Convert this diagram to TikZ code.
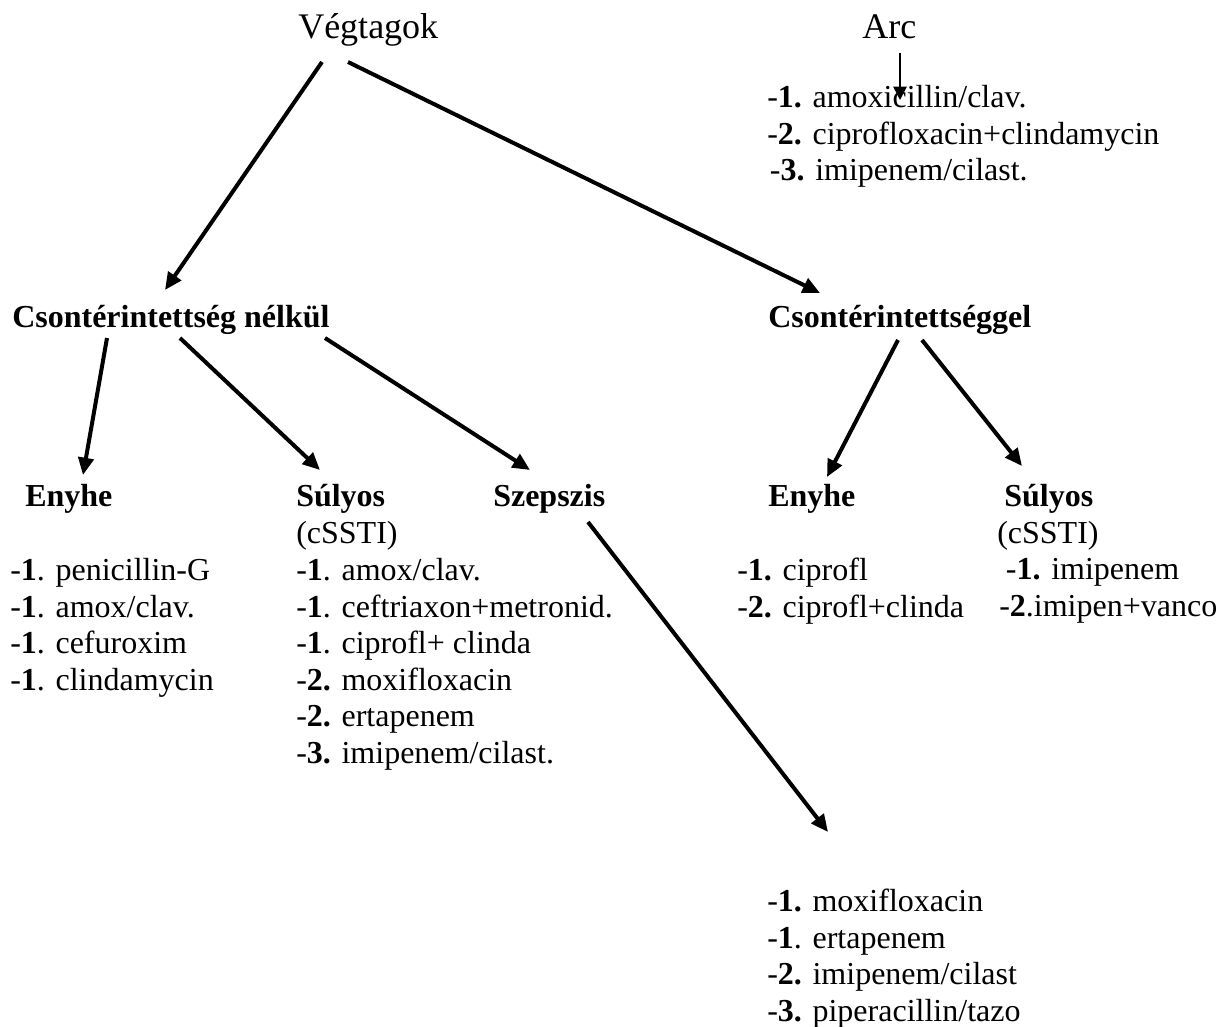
\documentclass[tikz,border=0pt]{standalone}
\usepackage{fontspec}
\setmainfont{Liberation Serif}
\usetikzlibrary{arrows.meta,calc}
\tikzset{
  txt/.style={anchor=base west,inner sep=0pt,font=\fontsize{24}{27}\selectfont},
  title/.style={anchor=base west,inner sep=0pt,font=\fontsize{27}{31}\selectfont},
  head/.style={anchor=base west,inner sep=0pt,font=\fontsize{24}{27}\selectfont\bfseries},
  lst/.style={anchor=north west,inner sep=0pt,align=left,font=\fontsize{24}{27.4}\selectfont},
  bigarrow/.style={line width=3pt,-{Triangle[length=13pt,width=11.5pt]}},
  thinarrow/.style={line width=1.1pt,-{Triangle[length=10pt,width=10pt]}}
}
\begin{document}
\begin{tikzpicture}[x=0.75pt,y=-0.75pt]
\useasboundingbox (0,0) rectangle (1229,1026);
% titles
\node[title] (veg) at (298,38) {Végtagok};
\node[title] (arc) at (862,38) {Arc};
\node[lst] (arclist) at (767,85) {-\textbf{1.} amoxicillin/clav.\\-\textbf{2.} ciprofloxacin+clindamycin\\\hspace{2pt}-\textbf{3.} imipenem/cilast.};
% headings
\node[head] (nelkul) at (12,327) {Csontérintettség nélkül};
\node[head] (vel) at (768,327) {Csontérintettséggel};
% sub headings
\node[head] (enyL) at (25,506) {Enyhe};
\node[head] (sulL) at (296,506) {Súlyos};
\node[txt] (csL) at (296,543) {(cSSTI)};
\node[head] (szep) at (493,506) {Szepszis};
\node[head] (enyR) at (768,506) {Enyhe};
\node[head] (sulR) at (1004,506) {Súlyos};
\node[txt] (csR) at (997,543) {(cSSTI)};
% lists
\node[lst] (listEL) at (10,558) {-\textbf{1}. penicillin-G\\-\textbf{1}. amox/clav.\\-\textbf{1}. cefuroxim\\-\textbf{1}. clindamycin};
\node[lst] (listSL) at (296,558) {-\textbf{1}. amox/clav.\\-\textbf{1}. ceftriaxon+metronid.\\-\textbf{1}. ciprofl+ clinda\\-\textbf{2.} moxifloxacin\\-\textbf{2.} ertapenem\\-\textbf{3.} imipenem/cilast.};
\node[lst] (listER) at (737,558) {-\textbf{1.} ciprofl\\-\textbf{2.} ciprofl+clinda};
\node[lst] (listSR) at (999,558) {\hspace{5pt}-\textbf{1.} imipenem\\-\textbf{2}.imipen+vanco};
\node[lst] (listSz) at (767,889) {-\textbf{1.} moxifloxacin\\-\textbf{1}. ertapenem\\-\textbf{2.} imipenem/cilast\\-\textbf{3.} piperacillin/tazo};
\coordinate (szend) at (828,832);
% arrows
\draw[thinarrow] ($(arc.base west)+(38,15)$) -- ($(arclist.north west)+(133,15)$);
\draw[bigarrow] ($(veg.base west)+(24,24)$) -- ($(nelkul.base west)+(153,-37)$);
\draw[bigarrow] ($(veg.base west)+(50,24)$) -- ($(vel.base west)+(52,-34)$);
\draw[bigarrow] ($(nelkul.base west)+(95,11)$) -- ($(enyL.base west)+(58,-31)$);
\draw[bigarrow] ($(nelkul.base west)+(168,11)$) -- ($(sulL.base west)+(24,-36)$);
\draw[bigarrow] ($(nelkul.base west)+(313,11)$) -- ($(szep.base west)+(37,-36)$);
\draw[bigarrow] ($(vel.base west)+(130,13)$) -- ($(enyR.base west)+(59,-29)$);
\draw[bigarrow] ($(vel.base west)+(154,13)$) -- ($(sulR.base west)+(18,-40)$);
\draw[bigarrow] ($(szep.base west)+(95,16)$) -- (szend);
\end{tikzpicture}
\end{document}
